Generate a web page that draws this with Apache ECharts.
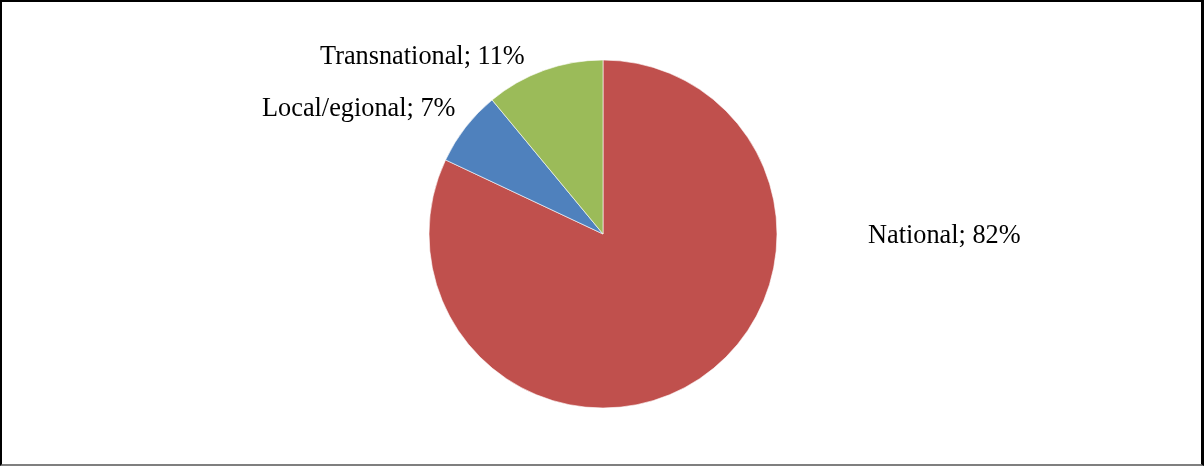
<!DOCTYPE html>
<html>
<head>
<meta charset="utf-8">
<script src="https://cdn.jsdelivr.net/npm/echarts@6/dist/echarts.min.js"></script>
<style>
  html, body { margin: 0; padding: 0; background: #fff; }
  .box {
    width: 1204px;
    height: 466px;
    box-sizing: border-box;
    border: 2px solid #000;
    border-bottom-color: #7f7f7f;
    border-right-width: 3px;
    border-right-color: #000;
  }
  #chart { width: 100%; height: 100%; }
</style>
</head>
<body>
<div class="box"><div id="chart"></div></div>
<script>
var categories = ["National", "Local/egional", "Transnational"]
var values = [82, 7, 11]
var colors = ["#C0504D", "#4F81BD", "#9BBB59"]

// where the labels sit (left edge, vertical middle), excel style
var labelSpots = [
  { x: 868, y: 236 },
  { x: 262, y: 109 },
  { x: 320, y: 57 }
]

var myChart = echarts.init(document.getElementById("chart"))
var option = {
  backgroundColor: "#ffffff",
  animation: false,
  series: [
    {
      type: "pie",
      center: [601, 232],
      radius: 174,
      startAngle: 90,
      clockwise: true,
      data: categories.map(function (name, i) {
        return { name: name, value: values[i], itemStyle: { color: colors[i] } }
      }),
      itemStyle: {
        borderColor: "#ffffff",
        borderWidth: 0.6
      },
      label: {
        show: true,
        position: "outside",
        formatter: function (p) {
          return p.name + "; " + p.value + "%"
        },
        color: "#000",
        fontFamily: "Liberation Serif",
        fontSize: 26.3
      },
      labelLine: { show: false },
      labelLayout: function (params) {
        var s = labelSpots[params.dataIndex]
        return { x: s.x - 2, y: s.y - 2, align: "left", verticalAlign: "middle" }
      },
      emphasis: { disabled: true }
    }
  ]
}
myChart.setOption(option)
</script>
</body>
</html>
